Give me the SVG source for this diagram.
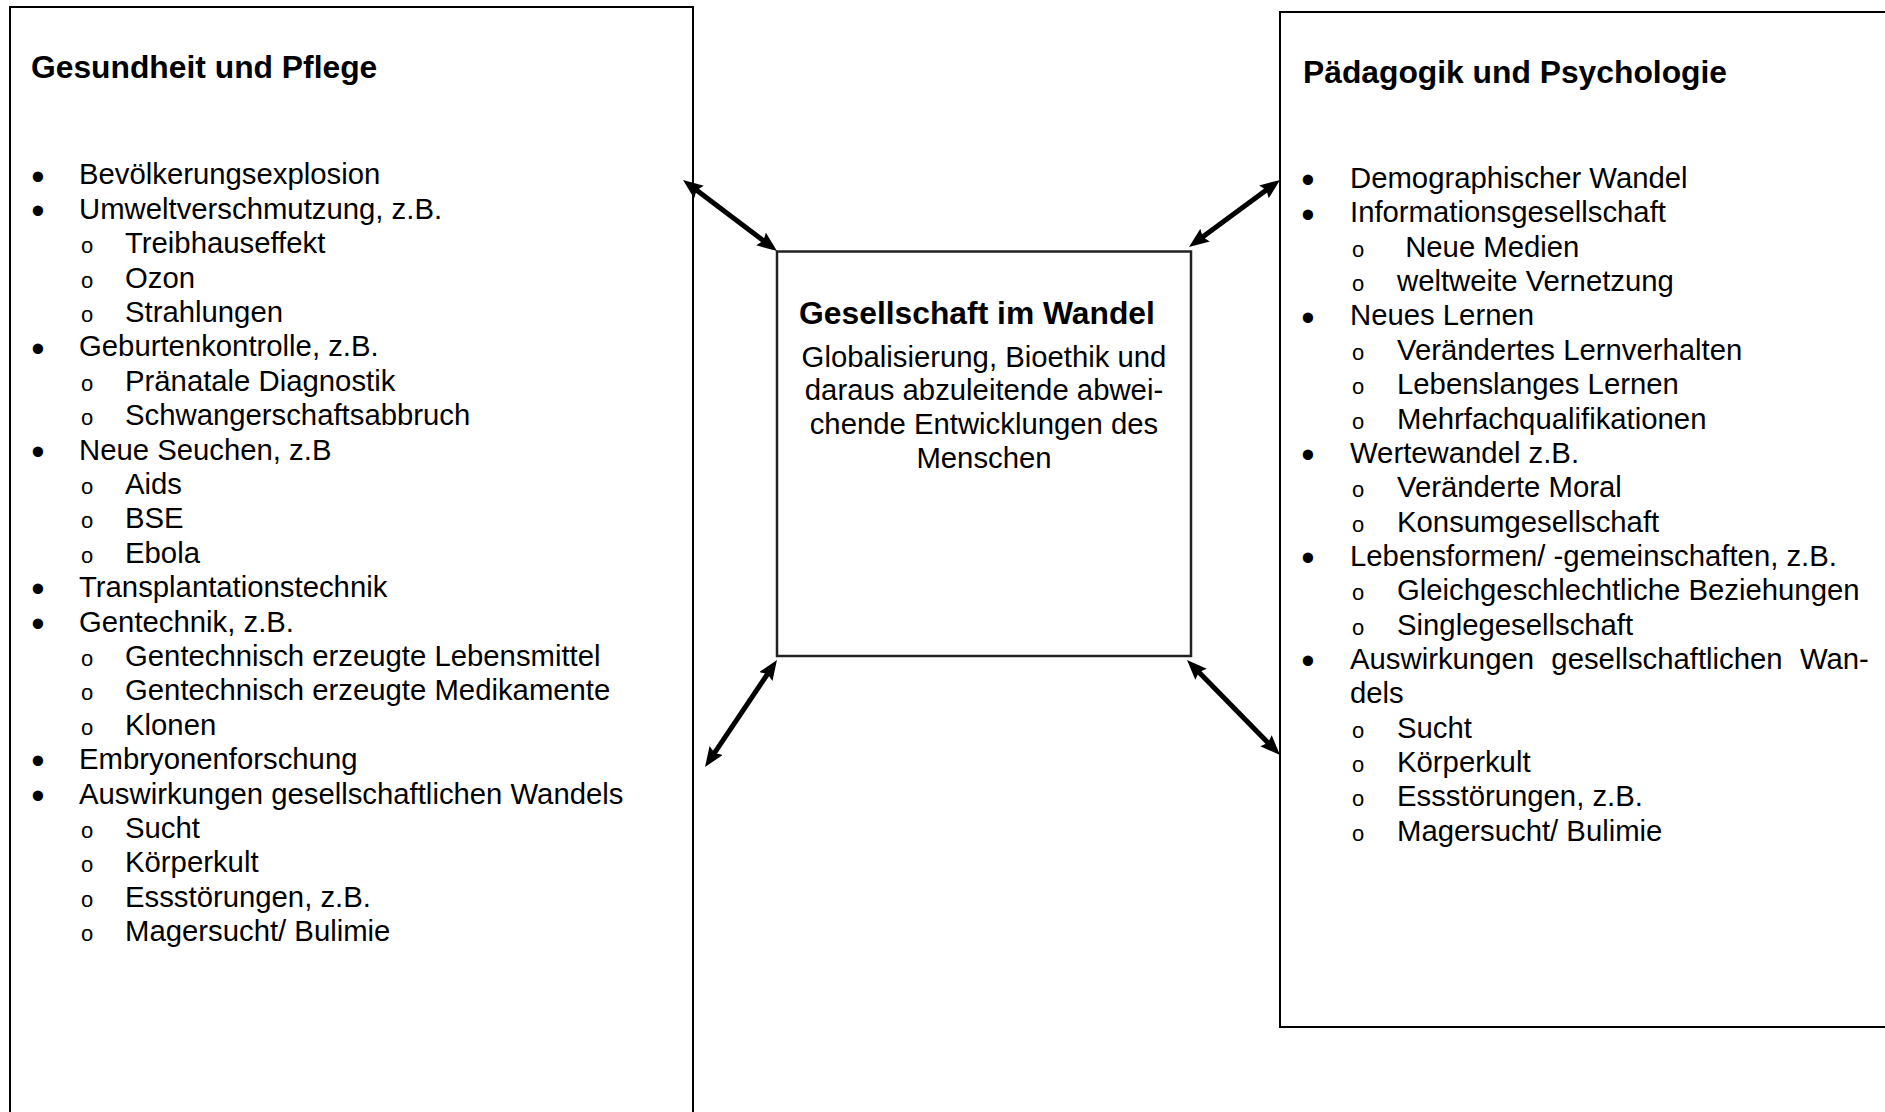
<svg xmlns="http://www.w3.org/2000/svg" width="1885" height="1112" viewBox="0 0 1885 1112">
  <style>
    .box { fill: #fff; stroke: #000; stroke-width: 2; }
    .core { fill: #fff; stroke: #222; stroke-width: 2.5; }
    text { font-family: "Liberation Sans", Arial, sans-serif; fill: #000; }
    .t { font-size: 29.3px; }
    .h { font-size: 31.8px; font-weight: bold; }
    .dot { font-size: 38px; text-anchor: middle; }
    .ring { font-size: 22px; text-anchor: middle; }
    .c { text-anchor: middle; }
    .link { stroke: #000; stroke-width: 5; fill: none; marker-start: url(#head); marker-end: url(#head); }
  </style>
  <defs>
    <marker id="head" viewBox="0 0 20 16" markerUnits="userSpaceOnUse" markerWidth="20" markerHeight="16" refX="12" refY="8" orient="auto-start-reverse">
      <path d="M0,0 L20,8 L0,16 L3,8 z" fill="#000"/>
    </marker>
  </defs>
  <rect width="1885" height="1112" fill="#fff"/>

  <!-- left topic column -->
  <g id="gesundheit-pflege">
    <rect class="box" x="10" y="7" width="683" height="1120"/>
    <text class="h" x="31" y="78.3">Gesundheit und Pflege</text>
    <g class="t">
      <text class="dot" x="38" y="189.6">•</text><text x="79" y="184.4">Bevölkerungsexplosion</text>
      <text class="dot" x="38" y="224">•</text><text x="79" y="218.8">Umweltverschmutzung, z.B.</text>
      <text class="ring" x="87" y="253.2">o</text><text x="125" y="253.2">Treibhauseffekt</text>
      <text class="ring" x="87" y="287.6">o</text><text x="125" y="287.6">Ozon</text>
      <text class="ring" x="87" y="322">o</text><text x="125" y="322">Strahlungen</text>
      <text class="dot" x="38" y="361.6">•</text><text x="79" y="356.4">Geburtenkontrolle, z.B.</text>
      <text class="ring" x="87" y="390.8">o</text><text x="125" y="390.8">Pränatale Diagnostik</text>
      <text class="ring" x="87" y="425.2">o</text><text x="125" y="425.2">Schwangerschaftsabbruch</text>
      <text class="dot" x="38" y="464.8">•</text><text x="79" y="459.6">Neue Seuchen, z.B</text>
      <text class="ring" x="87" y="494">o</text><text x="125" y="494">Aids</text>
      <text class="ring" x="87" y="528.4">o</text><text x="125" y="528.4">BSE</text>
      <text class="ring" x="87" y="562.8">o</text><text x="125" y="562.8">Ebola</text>
      <text class="dot" x="38" y="602.4">•</text><text x="79" y="597.2">Transplantationstechnik</text>
      <text class="dot" x="38" y="636.8">•</text><text x="79" y="631.6">Gentechnik, z.B.</text>
      <text class="ring" x="87" y="666">o</text><text x="125" y="666">Gentechnisch erzeugte Lebensmittel</text>
      <text class="ring" x="87" y="700.4">o</text><text x="125" y="700.4">Gentechnisch erzeugte Medikamente</text>
      <text class="ring" x="87" y="734.8">o</text><text x="125" y="734.8">Klonen</text>
      <text class="dot" x="38" y="774.4">•</text><text x="79" y="769.2">Embryonenforschung</text>
      <text class="dot" x="38" y="808.8">•</text><text x="79" y="803.6">Auswirkungen gesellschaftlichen Wandels</text>
      <text class="ring" x="87" y="838">o</text><text x="125" y="838">Sucht</text>
      <text class="ring" x="87" y="872.4">o</text><text x="125" y="872.4">Körperkult</text>
      <text class="ring" x="87" y="906.8">o</text><text x="125" y="906.8">Essstörungen, z.B.</text>
      <text class="ring" x="87" y="941.2">o</text><text x="125" y="941.2">Magersucht/ Bulimie</text>
    </g>
  </g>

  <!-- central topic -->
  <g id="gesellschaft-im-wandel">
    <rect class="core" x="777" y="251.5" width="414" height="404.5"/>
    <text class="h c" x="977" y="323.5">Gesellschaft im Wandel</text>
    <g class="t c">
      <text x="984" y="366.5">Globalisierung, Bioethik und</text>
      <text x="984" y="400.3">daraus abzuleitende abwei-</text>
      <text x="984" y="434.1">chende Entwicklungen des</text>
      <text x="984" y="467.9">Menschen</text>
    </g>
  </g>

  <!-- right topic column -->
  <g id="paedagogik-psychologie">
    <rect class="box" x="1280" y="12" width="620" height="1015"/>
    <text class="h" x="1303" y="82.7">Pädagogik und Psychologie</text>
    <g class="t">
      <text class="dot" x="1308" y="193.2">•</text><text x="1350" y="188">Demographischer Wandel</text>
      <text class="dot" x="1308" y="227.5">•</text><text x="1350" y="222.3">Informationsgesellschaft</text>
      <text class="ring" x="1358" y="256.7">o</text><text x="1397" y="256.7" xml:space="preserve"> Neue Medien</text>
      <text class="ring" x="1358" y="291">o</text><text x="1397" y="291">weltweite Vernetzung</text>
      <text class="dot" x="1308" y="330.6">•</text><text x="1350" y="325.4">Neues Lernen</text>
      <text class="ring" x="1358" y="359.8">o</text><text x="1397" y="359.8">Verändertes Lernverhalten</text>
      <text class="ring" x="1358" y="394.1">o</text><text x="1397" y="394.1">Lebenslanges Lernen</text>
      <text class="ring" x="1358" y="428.5">o</text><text x="1397" y="428.5">Mehrfachqualifikationen</text>
      <text class="dot" x="1308" y="468">•</text><text x="1350" y="462.8">Wertewandel z.B.</text>
      <text class="ring" x="1358" y="497.2">o</text><text x="1397" y="497.2">Veränderte Moral</text>
      <text class="ring" x="1358" y="531.5">o</text><text x="1397" y="531.5">Konsumgesellschaft</text>
      <text class="dot" x="1308" y="571.1">•</text><text x="1350" y="565.9">Lebensformen/ -gemeinschaften, z.B.</text>
      <text class="ring" x="1358" y="600.2">o</text><text x="1397" y="600.2">Gleichgeschlechtliche Beziehungen</text>
      <text class="ring" x="1358" y="634.6">o</text><text x="1397" y="634.6">Singlegesellschaft</text>
      <text class="dot" x="1308" y="674.1">•</text><text x="1350" y="668.9" word-spacing="9.2">Auswirkungen gesellschaftlichen Wan-</text>
      <text x="1350" y="703.3">dels</text>
      <text class="ring" x="1358" y="737.6">o</text><text x="1397" y="737.6">Sucht</text>
      <text class="ring" x="1358" y="772">o</text><text x="1397" y="772">Körperkult</text>
      <text class="ring" x="1358" y="806.3">o</text><text x="1397" y="806.3">Essstörungen, z.B.</text>
      <text class="ring" x="1358" y="840.7">o</text><text x="1397" y="840.7">Magersucht/ Bulimie</text>
    </g>
  </g>

  <!-- two-way links between the centre and the columns -->
  <g id="connectors">
    <line class="link" x1="689.4" y1="184.8" x2="770.6" y2="246.2"/>
    <line class="link" x1="1195.4" y1="242.3" x2="1273.6" y2="184.7"/>
    <line class="link" x1="709.5" y1="760.4" x2="772.5" y2="666.6"/>
    <line class="link" x1="1192.6" y1="665.7" x2="1274.4" y2="749.3"/>
  </g>
</svg>
